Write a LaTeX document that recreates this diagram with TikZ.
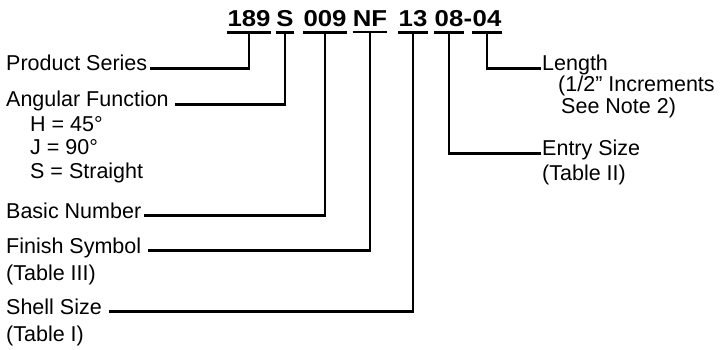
\documentclass[tikz,border=0pt]{standalone}
\usepackage{fontspec}
\setmainfont{Liberation Sans}
\usepackage{graphicx}
\usetikzlibrary{calc}

\newcommand{\codefont}{\fontsize{23}{26}\selectfont\bfseries}
\newcommand{\codetext}[1]{\scalebox{1.12}[1]{#1}}

\begin{document}
\begin{tikzpicture}[x=1pt, y=-1pt,
  code/.style={font=\codefont, inner xsep=0pt, inner ysep=5pt, anchor=base},
  lbl/.style={font=\fontsize{21.5}{24}\selectfont, inner sep=0pt, anchor=base west},
  conn/.style={line width=2.4pt},
  uline/.style={line width=2.2pt}
]
\useasboundingbox (0,0) rectangle (728,350);

% part number
\node[code] (c189)  at (249,27) {\codetext{189}};
\node[code] (cS)    at (285,27) {\codetext{S}};
\node[code] (c009)  at (325,27) {\codetext{009}};
\node[code] (cNF)   at (370,27) {\codetext{NF}};
\node[code] (c13)   at (413,27) {\codetext{13}};
\node[code] (c08)   at (449,27) {\codetext{08}};
\node[code] (cdash) at (468,27) {\codetext{-}};
\node[code] (c04)   at (487,27) {\codetext{04}};
\foreach \c in {c189,cS,c009,cNF,c13,c08,c04}
  \draw[uline] (\c.south west) -- (\c.south east);

% left side
\node[lbl] (series)  at (6,71)     {Product Series};
\node[lbl] (angular) at (6,107)    {Angular Function};
\node[lbl] (angH)    at (30,131.5) {H = 45°};
\node[lbl] (angJ)    at (30,154.5) {J = 90°};
\node[lbl] (angS)    at (30,178)   {S = Straight};
\node[lbl] (basic)   at (6,218)    {Basic Number};
\node[lbl] (finish)  at (6,253)    {Finish Symbol};
\node[lbl] (finishT) at (6,280)    {(Table III)};
\node[lbl] (shell)   at (6,314)    {Shell Size};
\node[lbl] (shellT)  at (6,341.5)  {(Table I)};

% right side
\node[lbl] (length)  at (542,71)   {Length};
\node[lbl] (lengthA) at (558,92)   {(1/2” Increments};
\node[lbl] (lengthB) at (561,113.5) {See Note 2)};
\node[lbl] (entry)   at (542,156)  {Entry Size};
\node[lbl] (entryT)  at (542,180)  {(Table II)};

\draw[conn] ([xshift=3pt]series.mid east)  -| (c189.south);
\draw[conn] ([xshift=6pt]angular.mid east) -| (cS.south);
\draw[conn] ([xshift=3pt]basic.mid east)   -| (c009.south);
\draw[conn] ([xshift=7pt]finish.mid east)  -| (cNF.south);
\draw[conn] ([xshift=7pt]shell.mid east)   -| (c13.south);
\draw[conn] (c08.south) |- ([xshift=-1pt]entry.mid west);
\draw[conn] (c04.south) |- ([xshift=-1pt]length.mid west);
\end{tikzpicture}
\end{document}
